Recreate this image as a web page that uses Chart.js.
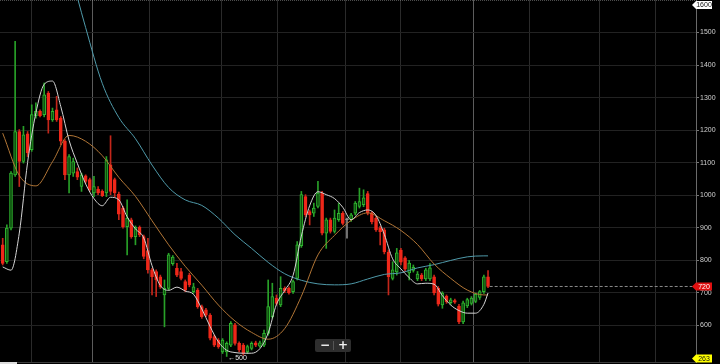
<!DOCTYPE html>
<html>
<head>
<meta charset="utf-8">
<script src="https://cdn.jsdelivr.net/npm/chart.js@4/dist/chart.umd.min.js"></script>
<style>
html,body{margin:0;padding:0;background:#000;}
#wrap{position:relative;width:720px;height:364px;background:#000;overflow:hidden;}
canvas{display:block;}
#zoombox{position:absolute;left:315px;top:339px;width:36px;height:13px;background:#2e2e2e;border-radius:2px;}
#zoombox span{position:absolute;top:-2px;color:#f2f2f2;font:bold 12px "DejaVu Sans",sans-serif;line-height:16px;}
#zoombox .sep{position:absolute;left:18px;top:2px;width:1px;height:9px;background:#555;}
#scroll{position:absolute;left:0;top:362px;width:17px;height:2px;background:#dcdcdc;}
</style>
</head>
<body>
<div id="wrap">
<canvas id="c" width="720" height="364"></canvas>
<div id="zoombox"><span style="left:5px">−</span><div class="sep"></div><span style="left:23px">+</span></div>
<div id="scroll"></div>
</div>
<script>
// ---- candle data (one entry per period) ----
const opens = [848,796,899,1063,1196,1104,1189,1140,1245,1258,1248,1314,1232,1263,1237,1166,1063,1068,1073,1027,1060,1048,1007,1019,1012,1007,1094,1048,1004,961,
904,925,873,902,873,830,771,766,750,694,714,790,776,766,735,755,704,709,658,648,632,566,555,519,519,540,602,545,540,519,
530,547,537,540,576,627,684,663,714,714,704,745,845,996,950,945,966,1007,884,925,889,925,945,925,925,945,966,
971,1005,946,930,900,894,826,745,765,832,808,762,769,743,755,743,743,750,715,663,690,670,677,660,611,660,668,674,686,704,750];
const closes = [791,899,1068,1196,1104,1186,1130,1248,1258,1245,1309,1232,1258,1232,1166,1063,1119,1104,1056,1063,1043,1017,1027,1007,999,1109,1012,1007,942,904,
930,873,902,878,812,771,750,740,719,714,817,810,755,745,709,725,719,658,627,632,561,540,535,555,545,607,545,525,514,535,
545,540,547,576,658,689,668,714,707,701,735,848,1002,940,940,961,1007,884,925,889,930,945,914,925,940,976,981,
992,946,918,894,888,826,750,771,823,795,773,792,779,758,743,771,777,700,666,700,673,679,672,611,670,680,684,696,704,750,720];
const highs = [868,909,1073,1473,1202,1212,1196,1278,1284,1263,1345,1319,1268,1304,1242,1171,1125,1114,1084,1068,1063,1053,1058,1027,1017,1119,1183,1053,1010,966,
986,930,906,906,878,868,776,771,755,740,822,815,791,776,740,761,730,714,663,653,637,571,560,560,550,612,607,550,545,540,
550,552,552,586,740,730,694,750,719,719,740,858,1012,1002,955,976,1043,1012,930,930,955,976,950,930,945,981,1022,
1017,1012,950,935,905,899,832,796,837,837,812,800,786,766,760,776,790,755,720,704,694,684,681,665,675,684,689,700,708,755,769];
const lows = [786,791,894,1058,1027,1099,1119,1135,1237,1241,1241,1191,1227,1227,1155,1048,1007,1058,1048,1012,1037,1012,996,1002,996,996,1002,996,925,899,
817,868,848,873,805,761,694,689,714,596,709,785,750,740,704,719,699,653,622,627,556,535,530,514,505,535,540,519,509,514,
525,535,533,535,570,622,663,658,701,696,699,740,840,935,909,935,961,878,837,884,884,920,909,868,920,940,961,
965,940,912,889,848,820,694,740,755,786,766,740,764,738,738,738,738,694,660,653,668,665,668,606,606,655,663,670,680,699,716];

// ---- moving-average lines (period index -> value) ----
const fastIdx = [0,2,4,6,8,10,12,14,16,18,20,22,24,26,28,30,32,34,36,38,40,42,44,46,48,50,52,54,56,58,60,62,64,66,68,70,72,74,76,78,80,82,84,86,88,90,92,94,96,98,100,102,104,106,108,110,112,114,116,117];
const fastVal = [780,770,884,1101,1253,1341,1351,1273,1169,1098,1035,990,968,994,986,934,897,869,784,723,708,718,706,696,651,597,550,524,517,515,515,529,577,665,708,754,875,968,1011,1002,990,963,925,947,955,938,880,805,774,747,728,730,727,692,663,646,638,638,665,700];
const midIdx = [0,4,8,12,16,20,24,28,32,36,40,44,48,52,56,60,64,68,72,76,80,84,88,92,96,100,104,108,112,116,117];
const midVal = [1191,1061,1029,1103,1184,1166,1122,1055,997,922,848,782,724,663,614,579,558,591,690,817,877,923,946,922,892,849,789,745,709,694,694];
const slowIdx = [16,20,24,28,32,36,40,44,48,52,56,60,64,68,72,76,80,84,88,92,96,100,104,108,112,116,117];
const slowVal = [1703,1515,1344,1239,1174,1093,1024,986,969,930,879,837,794,759,739,728,725,728,743,757,762,777,787,800,811,814,814];

// ---- axes ----
const yTicks = [600,700,800,900,1000,1100,1200,1300,1400,1500];
const gridIdx = [7.06,21.53,35.27,52.63,66.13,82.76,96.02,113.62,127.12,143.76,157.26];
const yearGridIdx = [21.53,113.62];
const yMin = 488, yMax = 1600;
const xMin = -0.651, xMax = 167.14;

// ---- tags / markers ----
const lastPrice = closes[closes.length - 1];
const tags = [
  {text:'1600', value:yMax, bg:'#ffffff', fg:'#111'},
  {text:String(lastPrice), value:lastPrice, bg:'#e01010', fg:'#fff'},
  {text:'263', value:yMin, bg:'#ffff00', fg:'#111'}
];
const lowMarker = {index:54, value:500};

const idx = opens.map((_, i) => i);
const dir = idx.map(i => closes[i] > opens[i] ? 1 : (closes[i] < opens[i] ? -1 : 0));
const wickData = idx.map(i => ({x:i, y:[lows[i], highs[i]]}));
const bodyData = idx.map(i => ({x:i, y:[Math.min(opens[i], closes[i]), Math.max(opens[i], closes[i])]}));
const pts = (a, b) => a.map((v, k) => ({x:v, y:b[k]}));

const tagPlugin = {
  id: 'tags',
  afterDraw(chart) {
    const {ctx, scales:{x, y}, chartArea} = chart;
    ctx.save();
    ctx.font = '7px "Liberation Sans", sans-serif';
    ctx.fillStyle = '#e6e6e6';
    ctx.textAlign = 'left';
    ctx.textBaseline = 'middle';
    ctx.fillText('\u2190' + lowMarker.value, x.getPixelForValue(lowMarker.index) + 1.5, y.getPixelForValue(lowMarker.value));
    tags.forEach(t => {
      let py = y.getPixelForValue(t.value);
      py = Math.min(Math.max(py, 5), chart.height - 5.5);
      const tip = chartArea.right - 4, l = chartArea.right, r = l + 16, h = 4;
      ctx.fillStyle = t.bg;
      ctx.beginPath();
      ctx.moveTo(tip, py);
      ctx.lineTo(l, py - h);
      ctx.lineTo(r, py - h);
      ctx.lineTo(r, py + h);
      ctx.lineTo(l, py + h);
      ctx.closePath();
      ctx.fill();
      ctx.fillStyle = t.fg;
      ctx.textAlign = 'center';
      ctx.fillText(t.text, (l + r) / 2, py + 0.5);
    });
    ctx.restore();
  }
};

new Chart(document.getElementById('c'), {
  type: 'bar',
  data: {
    datasets: [
      {type:'line', label:'fast', data:pts(fastIdx, fastVal), borderColor:'#d4d4d4', borderWidth:1, pointRadius:0, cubicInterpolationMode:'monotone', order:0},
      {type:'line', label:'mid', data:pts(midIdx, midVal), borderColor:'#b27636', borderWidth:1, pointRadius:0, cubicInterpolationMode:'monotone', order:1},
      {type:'line', label:'slow', data:pts(slowIdx, slowVal), borderColor:'#4f9aaa', borderWidth:1, pointRadius:0, cubicInterpolationMode:'monotone', order:2},
      {type:'line', label:'last', data:[{x:closes.length - 0.6, y:lastPrice},{x:xMax, y:lastPrice}], borderColor:'#8a8a8a', borderWidth:1, borderDash:[3,2], pointRadius:0, order:3},
      {type:'line', label:'max', data:[{x:xMin, y:yMax},{x:xMax, y:yMax}], borderColor:'#9a9a9a', borderWidth:1, borderDash:[1,1], pointRadius:0, order:3},
      {type:'bar', label:'body', data:bodyData, grouped:false, barThickness:3, minBarLength:1, borderSkipped:false, borderWidth:1,
        backgroundColor: idx.map(i => dir[i] > 0 ? '#0f4f0f' : (dir[i] < 0 ? '#f0281a' : '#888')),
        borderColor: idx.map(i => dir[i] > 0 ? '#2fb52f' : (dir[i] < 0 ? '#f0281a' : '#999')), order:4},
      {type:'bar', label:'wick', data:wickData, grouped:false, barThickness:1, borderWidth:0, borderSkipped:false,
        backgroundColor: idx.map(i => dir[i] > 0 ? '#28a028' : (dir[i] < 0 ? '#c4261a' : '#888')), order:5}
    ]
  },
  options: {
    responsive: false,
    animation: false,
    devicePixelRatio: 1,
    layout: {padding: 0},
    plugins: {legend:{display:false}, tooltip:{enabled:false}},
    scales: {
      x: {
        type: 'linear', min: xMin, max: xMax, offset: false, bounds: 'data',
        afterBuildTicks: s => { s.ticks = gridIdx.map(v => ({value: v})); },
        ticks: {display: false},
        grid: {offset: false, drawTicks: false, color: ctx => (ctx.tick && yearGridIdx.includes(ctx.tick.value)) ? '#5c5c5c' : '#2a2a2a'},
        border: {color: '#3c3c3c'},
        afterFit: s => { s.height = 2; s.paddingLeft = 0; s.paddingRight = 0; }
      },
      y: {
        position: 'right', min: yMin, max: yMax, bounds: 'data',
        afterBuildTicks: s => { s.ticks = yTicks.map(v => ({value: v})); },
        ticks: {color: '#d0d0d0', font: {size: 7, family: 'Liberation Sans'}, padding: 1, callback: v => String(v)},
        grid: {color: '#222222', tickLength: 3, tickColor: '#777'},
        border: {color: '#6a6a6a'},
        afterFit: s => { s.width = 24; s.paddingTop = 0; s.paddingBottom = 0; }
      }
    }
  },
  plugins: [tagPlugin]
});
</script>
</body>
</html>
